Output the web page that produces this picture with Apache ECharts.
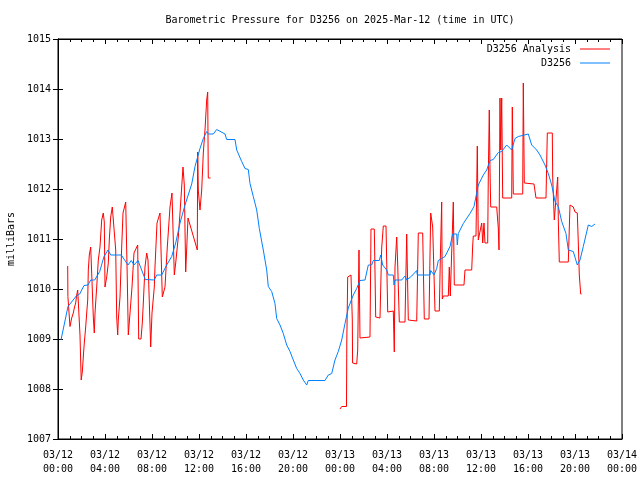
<!DOCTYPE html>
<html>
<head>
<meta charset="utf-8">
<script src="https://cdn.jsdelivr.net/npm/echarts@6/dist/echarts.min.js"></script>
<style>html,body{margin:0;padding:0;background:#fff}#c{width:640px;height:480px}</style>
</head>
<body>
<div id="c"></div>
<script>
// x tick labels (every 4 hours from 03/12 00:00 UTC)
const xTickLabels = ['03/12\n00:00','03/12\n04:00','03/12\n08:00','03/12\n12:00','03/12\n16:00','03/12\n20:00',
  '03/13\n00:00','03/13\n04:00','03/13\n08:00','03/13\n12:00','03/13\n16:00','03/13\n20:00','03/14\n00:00'];

// D3256 Analysis, first part (hours since 03/12 00:00, mbar)
const anaHoursA = [0.826,0.843,0.936,1.021,1.166,1.302,1.387,1.506,1.591,1.677,1.787,1.872,1.974,2.068,2.153,2.238,2.357,2.443,2.528,2.579,2.664,2.783,2.868,3.004,3.089,3.149,3.294,3.430,3.574,3.719,3.855,3.940,4.000,4.145,4.281,4.366,4.485,4.621,4.791,4.911,4.996,5.081,5.132,5.277,5.421,5.532,5.762,5.898,5.983,6.128,6.298,6.468,6.783,6.868,7.064,7.174,7.260,7.404,7.549,7.660,7.889,8.000,8.196,8.255,8.426,8.681,8.877,9.106,9.302,9.532,9.702,9.898,10.017,10.238,10.383,10.638,10.749,10.868,11.064,11.660,11.855,11.889,11.940,12.085,12.230,12.366,12.510,12.655,12.740,12.790,12.980];
const anaValuesA = [1010.46,1009.85,1009.85,1009.25,1009.42,1009.52,1009.62,1009.72,1009.88,1009.98,1010.02,1009.08,1008.18,1008.34,1008.64,1008.92,1009.24,1009.52,1009.78,1010.38,1010.68,1010.84,1010.32,1009.44,1009.12,1009.52,1010.04,1010.58,1010.84,1011.38,1011.52,1011.34,1010.04,1010.24,1010.52,1010.98,1011.44,1011.64,1011.68,1010.78,1009.44,1009.08,1009.38,1009.84,1010.84,1011.52,1011.74,1010.18,1009.08,1009.52,1010.04,1010.72,1010.88,1009.00,1009.00,1009.32,1009.72,1010.44,1010.72,1010.58,1008.84,1009.52,1010.04,1010.44,1011.32,1011.52,1009.84,1010.04,1010.84,1011.64,1011.92,1010.28,1010.52,1011.04,1011.52,1012.44,1012.08,1010.34,1011.42,1010.94,1010.78,1012.74,1011.98,1011.58,1011.98,1012.72,1013.18,1013.78,1013.94,1012.22,1012.22];

// D3256 Analysis, second part
const anaHoursB = [24.000,24.145,24.553,24.579,24.655,24.936,25.047,25.072,25.421,25.506,25.617,25.702,26.553,26.638,26.919,26.979,27.038,27.404,27.549,27.685,27.915,28.060,28.536,28.621,28.681,28.826,28.911,29.047,29.532,29.591,29.677,29.762,29.813,30.528,30.664,31.038,31.174,31.574,31.719,31.804,31.889,32.026,32.085,32.451,32.536,32.655,32.706,32.791,33.217,33.302,33.387,33.506,33.643,33.728,34.553,34.638,35.209,35.294,35.345,35.574,35.685,35.770,35.915,36.060,36.145,36.255,36.340,36.570,36.621,36.706,36.766,36.826,37.336,37.472,37.532,37.617,37.677,37.762,37.847,38.613,38.664,38.749,39.549,39.600,39.685,40.510,40.681,41.532,41.643,42.068,42.102,42.238,42.383,42.528,42.579,42.664,43.430,43.574,43.855,44.000,44.196,44.281,44.366,44.485,44.553];
const anaValuesB = [1007.60,1007.65,1007.65,1008.94,1010.24,1010.28,1009.38,1008.52,1008.50,1008.78,1010.78,1009.02,1009.04,1011.20,1011.20,1010.32,1009.44,1009.42,1010.82,1011.26,1011.26,1009.54,1009.56,1008.74,1010.44,1011.04,1010.48,1009.34,1009.34,1010.08,1011.10,1011.10,1009.38,1009.36,1011.12,1011.12,1009.40,1009.40,1011.52,1011.38,1011.24,1011.24,1009.56,1009.56,1010.58,1011.74,1009.80,1009.86,1009.86,1010.44,1009.86,1009.84,1011.74,1010.08,1010.08,1010.38,1010.38,1010.88,1011.06,1011.06,1012.86,1010.98,1010.94,1011.32,1010.92,1011.32,1010.92,1010.92,1012.24,1013.58,1012.38,1011.64,1011.64,1011.22,1010.78,1013.82,1012.78,1013.82,1011.82,1011.82,1013.64,1011.90,1011.90,1014.12,1012.12,1012.10,1011.82,1011.82,1013.12,1013.12,1012.24,1011.38,1011.38,1012.24,1011.38,1010.54,1010.54,1011.68,1011.64,1011.54,1011.52,1010.92,1010.28,1009.90,1009.90];

// D3256 observed
const obsHours = [0.255,0.851,1.557,1.847,2.213,2.553,2.783,3.123,3.549,3.915,4.255,4.485,5.387,5.957,6.238,6.468,6.809,7.430,8.196,8.400,8.826,9.251,9.677,10.017,10.383,10.809,11.379,11.660,12.085,12.366,12.655,12.791,13.217,13.506,13.643,14.213,14.357,15.064,15.209,15.634,15.915,16.196,16.340,16.621,16.911,17.132,17.472,17.762,17.898,18.187,18.468,18.613,18.894,19.174,19.464,19.745,20.026,20.315,20.596,20.877,21.166,21.302,22.723,23.004,23.294,23.574,23.855,24.145,24.426,24.706,25.132,25.421,25.702,26.128,26.409,26.698,26.834,27.345,27.464,27.634,27.974,28.111,28.536,28.596,28.681,29.251,29.532,29.677,30.102,30.528,30.579,31.660,31.719,32.000,32.230,32.366,32.936,33.362,33.591,33.932,33.983,34.068,34.494,35.064,35.404,35.770,36.196,36.485,36.766,37.047,37.472,37.762,38.187,38.613,38.894,39.174,39.319,40.026,40.315,40.740,41.021,41.447,41.728,42.017,42.298,42.579,42.868,43.234,43.430,43.855,44.196,44.426,44.706,45.132,45.421,45.702];
const obsValues = [1008.98,1009.65,1009.86,1009.90,1010.07,1010.08,1010.18,1010.18,1010.35,1010.65,1010.78,1010.68,1010.68,1010.48,1010.57,1010.48,1010.57,1010.19,1010.18,1010.28,1010.28,1010.48,1010.65,1010.92,1011.32,1011.68,1012.10,1012.45,1012.81,1013.01,1013.15,1013.10,1013.10,1013.19,1013.15,1013.10,1012.99,1012.99,1012.78,1012.55,1012.41,1012.39,1012.11,1011.85,1011.58,1011.21,1010.78,1010.38,1010.05,1009.95,1009.71,1009.41,1009.28,1009.11,1008.88,1008.75,1008.58,1008.41,1008.31,1008.18,1008.08,1008.17,1008.17,1008.28,1008.31,1008.58,1008.75,1008.98,1009.31,1009.62,1009.88,1010.01,1010.17,1010.18,1010.48,1010.48,1010.57,1010.57,1010.68,1010.48,1010.38,1010.28,1010.28,1010.08,1010.18,1010.18,1010.26,1010.18,1010.26,1010.37,1010.28,1010.28,1010.37,1010.28,1010.41,1010.57,1010.65,1010.85,1011.10,1011.10,1010.88,1011.11,1011.31,1011.51,1011.65,1012.08,1012.28,1012.38,1012.57,1012.59,1012.73,1012.75,1012.88,1012.78,1013.01,1013.05,1013.08,1013.10,1012.88,1012.78,1012.68,1012.48,1012.31,1012.08,1011.75,1011.65,1011.35,1011.11,1010.78,1010.75,1010.48,1010.58,1010.85,1011.28,1011.25,1011.30];

const FONT = 'DejaVu Sans Mono';
const zip = (a, b) => a.map((t, i) => [t, b[i]]);
const chart = echarts.init(document.getElementById('c'), null, {renderer: 'canvas'});
const tickCommon = {show: true, inside: true, length: 5, lineStyle: {color: '#000', width: 1}};
const minorCommon = {show: true, splitNumber: 4, length: 3, lineStyle: {color: '#000', width: 1}};
chart.setOption({
  animation: false,
  backgroundColor: '#fff',
  grid: {left: 58, right: 18, top: 39, bottom: 41, outerBoundsMode: 'none', containLabel: false,
    show: true, borderColor: '#000', borderWidth: 1, backgroundColor: 'transparent'},
  graphic: [{
    type: 'text', x: 340, y: 20,
    style: {text: 'Barometric Pressure for D3256 on 2025-Mar-12 (time in UTC)', font: '10px "' + FONT + '"', fill: '#000', textAlign: 'center', textVerticalAlign: 'middle'}
  }],
  legend: {
    data: [{name: 'D3256 Analysis', icon: 'rect'}, {name: 'D3256', icon: 'rect'}],
    orient: 'vertical', right: 30, top: 43, align: 'right',
    itemWidth: 30, itemHeight: 1, itemGap: 2, padding: 0,
    textStyle: {fontFamily: FONT, fontSize: 10, lineHeight: 12, color: '#000', padding: [0, 4, 0, 0]}
  },
  xAxis: [{
    type: 'value', min: 0, max: 48, interval: 4, position: 'bottom',
    axisLine: {show: true, lineStyle: {color: '#000'}}, axisTick: tickCommon, minorTick: minorCommon,
    splitLine: {show: false},
    axisLabel: {fontFamily: FONT, fontSize: 10, color: '#000', lineHeight: 14, margin: 9,
      formatter: v => xTickLabels[Math.round(v / 4)]}
  }, {
    type: 'value', min: 0, max: 48, interval: 4, position: 'top',
    axisLine: {show: true, lineStyle: {color: '#000'}}, axisTick: tickCommon, minorTick: minorCommon,
    splitLine: {show: false}, axisLabel: {show: false}
  }],
  yAxis: [{
    type: 'value', min: 1007, max: 1015, interval: 1, position: 'left',
    name: 'milliBars', nameLocation: 'middle', nameGap: 41, nameRotate: 90,
    nameTextStyle: {fontFamily: FONT, fontSize: 10, color: '#000'},
    axisLine: {show: true, lineStyle: {color: '#000'}}, axisTick: tickCommon,
    splitLine: {show: false},
    axisLabel: {fontFamily: FONT, fontSize: 10, color: '#000', margin: 7, formatter: v => String(v)}
  }, {
    type: 'value', min: 1007, max: 1015, interval: 1, position: 'right',
    axisLine: {show: true, lineStyle: {color: '#000'}}, axisTick: tickCommon,
    splitLine: {show: false}, axisLabel: {show: false}
  }],
  series: [{
    name: 'D3256 Analysis', type: 'line', symbol: 'none', color: '#ff0000',
    lineStyle: {width: 1, color: '#ff0000'}, data: zip(anaHoursA, anaValuesA)
  }, {
    name: 'D3256 Analysis', type: 'line', symbol: 'none', color: '#ff0000',
    lineStyle: {width: 1, color: '#ff0000'}, data: zip(anaHoursB, anaValuesB)
  }, {
    name: 'D3256', type: 'line', symbol: 'none', color: '#0080ff',
    lineStyle: {width: 1, color: '#0080ff'}, data: zip(obsHours, obsValues)
  }]
});
</script>
</body>
</html>
